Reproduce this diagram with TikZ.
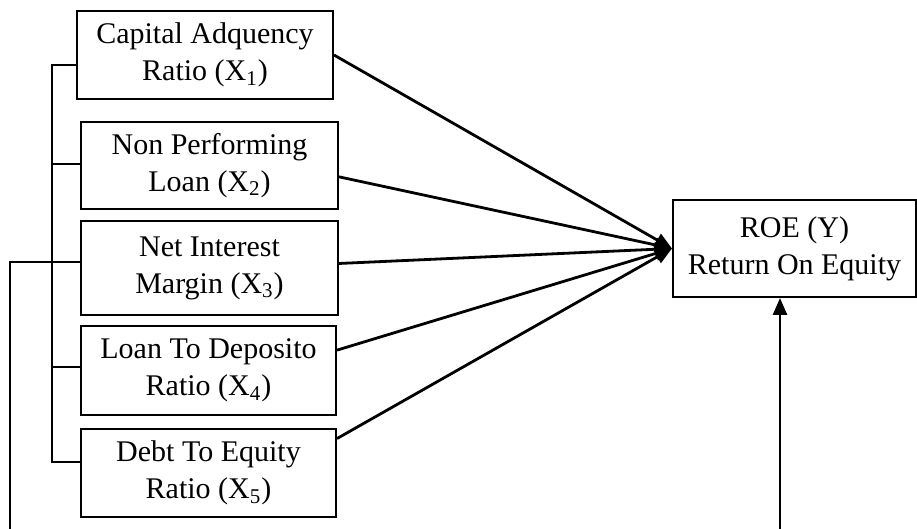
\documentclass[tikz,border=0pt]{standalone}
\usepackage{fontspec}
\setmainfont{Liberation Serif}
\usetikzlibrary{arrows.meta}

\begin{document}
\begin{tikzpicture}[x=0.5pt,y=-0.5pt,
  var/.style={draw, line width=1pt, align=center, inner sep=0pt,
    font=\fontsize{15}{18.5}\selectfont},
  link/.style={line width=1.4pt, -{Triangle[length=8.5pt,width=7pt]}}]
\useasboundingbox (0,0) rectangle (917,529);
 \begin{scope}
  \node[var, minimum width=128pt, minimum height=44pt] (x1) at (205,55) {Capital Adquency\\Ratio (X\textsubscript{1})};
  \node[var, minimum width=128.5pt, minimum height=43.5pt] (x2) at (209.5,165.5) {Non Performing\\Loan (X\textsubscript{2})};
  \node[var, minimum width=128.5pt, minimum height=47pt] (x3) at (209.5,268) {Net Interest\\Margin (X\textsubscript{3})};
  \node[var, minimum width=127.5pt, minimum height=44.5pt] (x4) at (208.5,370.5) {Loan To Deposito\\Ratio (X\textsubscript{4})};
  \node[var, minimum width=127.5pt, minimum height=44pt] (x5) at (208.5,473) {Debt To Equity\\Ratio (X\textsubscript{5})};
  \node[var, minimum width=121.5pt, minimum height=48.5pt] (roe) at (794.5,248.5) {ROE (Y)\\Return On Equity};
 \end{scope}
  % brackets on the left
  \coordinate (b1) at (52,65);
  \coordinate (b5) at (52,462);
  \coordinate (b2) at (52,164);
  \coordinate (b4) at (52,367);
  \coordinate (c3) at (10,262);
  \coordinate (f1) at (10,529);
  \coordinate (f2) at (780,529);
  \draw[line width=0.7pt] (b1 -| x1.west) -- (b1) -- (b5) -- (b5 -| x5.west);
  \draw[line width=1.3pt] (b2 -| x2.west) -- (b2) -- (b4) -- (b4 -| x4.west);
  \draw[line width=1.3pt] (f1) -- (c3) -- (c3 -| x3.west);
  % arrows to ROE
  \path [link] (x1.east) edge (roe.west);
  \path [link] (x2.355) edge (roe.west);
  \path [link] (x3.2) edge (roe.west);
  \path [link] (x4.9) edge (roe.west);
  \path [link] (x5.15) edge (roe.west);
  \draw [link] (f2) -- (f2 |- roe.south);
\end{tikzpicture}
\end{document}
